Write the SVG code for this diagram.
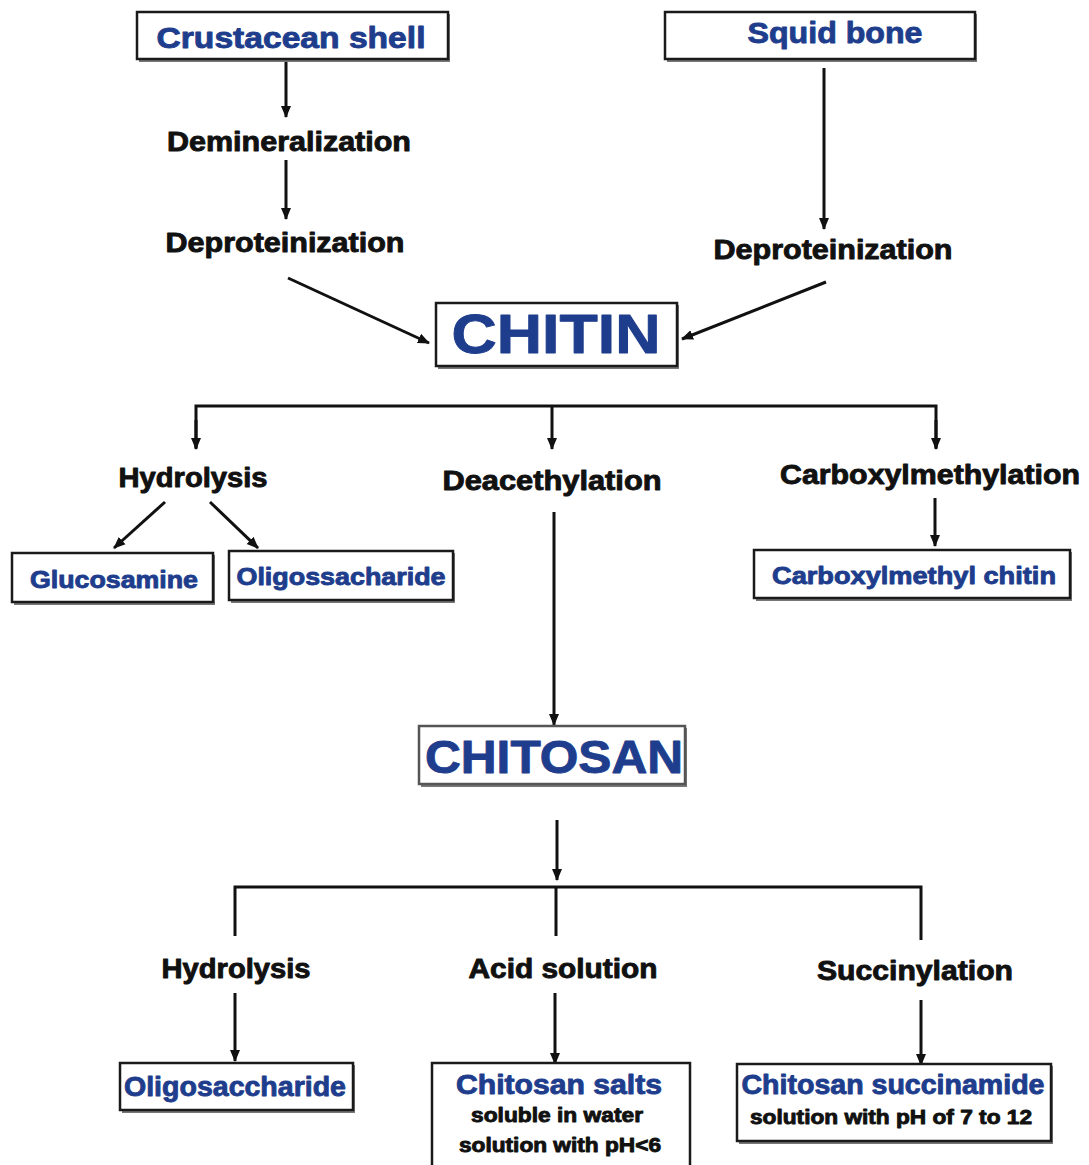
<svg xmlns="http://www.w3.org/2000/svg" width="1089" height="1165" viewBox="0 0 1089 1165">
<style>
text{font-family:"Liberation Sans",Arial,sans-serif;font-weight:bold;text-anchor:middle;stroke-width:0.9;stroke-linejoin:round}
.b{fill:#1e3d8c;stroke:#1e3d8c}
.k{fill:#111;stroke:#111}
.box{fill:#fff;stroke:#1a1a1a;stroke-width:2.5}
.sh{fill:#777}
.ln{stroke:#111;stroke-width:3;fill:none}
</style>
<defs>
<marker id="ah" markerWidth="12" markerHeight="11" refX="11" refY="5.5" orient="auto" markerUnits="userSpaceOnUse" viewBox="0 0 12 11">
<path d="M0,0.5 L12,5.5 L0,10.5 Z" fill="#111"/>
</marker>
</defs>
<rect width="1089" height="1165" fill="#fff"/>
<g id="connectors">
<line class="ln" x1="286" y1="62" x2="286" y2="117" marker-end="url(#ah)"/>
<line class="ln" x1="286" y1="160" x2="286" y2="219" marker-end="url(#ah)"/>
<line class="ln" x1="824" y1="68" x2="824" y2="229" marker-end="url(#ah)"/>
<line class="ln" x1="288" y1="278" x2="429" y2="343" marker-end="url(#ah)"/>
<line class="ln" x1="826" y1="282" x2="682" y2="339" marker-end="url(#ah)"/>
<polyline class="ln" points="196,448 196,406 936,406 936,448"/>
<line class="ln" x1="196" y1="420" x2="196" y2="449" marker-end="url(#ah)"/>
<line class="ln" x1="552" y1="406" x2="552" y2="449" marker-end="url(#ah)"/>
<line class="ln" x1="936" y1="420" x2="936" y2="449" marker-end="url(#ah)"/>
<line class="ln" x1="165" y1="502" x2="114" y2="548" marker-end="url(#ah)"/>
<line class="ln" x1="210" y1="502" x2="258" y2="548" marker-end="url(#ah)"/>
<line class="ln" x1="935" y1="498" x2="935" y2="546" marker-end="url(#ah)"/>
<line class="ln" x1="554" y1="512" x2="554" y2="725" marker-end="url(#ah)"/>
<line class="ln" x1="557" y1="820" x2="557" y2="880" marker-end="url(#ah)"/>
<polyline class="ln" points="235,936 235,887 921,887 921,940"/>
<line class="ln" x1="556" y1="887" x2="556" y2="936"/>
<line class="ln" x1="235" y1="993" x2="235" y2="1061" marker-end="url(#ah)"/>
<line class="ln" x1="555" y1="993" x2="555" y2="1064" marker-end="url(#ah)"/>
<line class="ln" x1="921" y1="1000" x2="921" y2="1065" marker-end="url(#ah)"/>
</g>
<g id="crustacean">
<rect class="sh" x="139" y="14" width="311" height="48"/>
<rect class="box" x="137" y="12" width="311" height="47"/>
<text class="b" x="291" y="48" font-size="30" textLength="269" lengthAdjust="spacingAndGlyphs">Crustacean shell</text>
</g>
<g id="squid">
<rect class="sh" x="667" y="14" width="310" height="48"/>
<rect class="box" x="665" y="12" width="310" height="47"/>
<text class="b" x="835" y="43" font-size="30" textLength="175" lengthAdjust="spacingAndGlyphs">Squid bone</text>
</g>
<g id="demineralization"><text class="k" x="289" y="151" font-size="27" textLength="244" lengthAdjust="spacingAndGlyphs">Demineralization</text></g>
<g id="deprot1"><text class="k" x="285" y="252" font-size="27" textLength="239" lengthAdjust="spacingAndGlyphs">Deproteinization</text></g>
<g id="deprot2"><text class="k" x="833" y="259" font-size="27" textLength="239" lengthAdjust="spacingAndGlyphs">Deproteinization</text></g>
<g id="chitin">
<rect class="sh" x="438" y="305" width="241" height="64"/>
<rect class="box" x="436" y="303" width="241" height="63"/>
<text class="b" x="556" y="353" font-size="55" textLength="209" lengthAdjust="spacingAndGlyphs">CHITIN</text>
</g>
<g id="hydrolysis1"><text class="k" x="193" y="487" font-size="27" textLength="149" lengthAdjust="spacingAndGlyphs">Hydrolysis</text></g>
<g id="deacethylation"><text class="k" x="552" y="490" font-size="27" textLength="219" lengthAdjust="spacingAndGlyphs">Deacethylation</text></g>
<g id="carboxylmethylation"><text class="k" x="930" y="484" font-size="27" textLength="300" lengthAdjust="spacingAndGlyphs">Carboxylmethylation</text></g>
<g id="glucosamine">
<rect class="sh" x="14" y="555" width="201" height="50"/>
<rect class="box" x="12" y="553" width="201" height="49"/>
<text class="b" x="114" y="588" font-size="24" textLength="168" lengthAdjust="spacingAndGlyphs">Glucosamine</text>
</g>
<g id="oligossacharide">
<rect class="sh" x="231" y="553" width="224" height="50"/>
<rect class="box" x="229" y="551" width="224" height="49"/>
<text class="b" x="341" y="585" font-size="24" textLength="209" lengthAdjust="spacingAndGlyphs">Oligossacharide</text>
</g>
<g id="cmchitin">
<rect class="sh" x="756" y="552" width="316" height="49"/>
<rect class="box" x="754" y="550" width="316" height="48"/>
<text class="b" x="914" y="584" font-size="24" textLength="284" lengthAdjust="spacingAndGlyphs">Carboxylmethyl chitin</text>
</g>
<g id="chitosan">
<rect class="sh" x="421" y="728" width="266" height="59"/>
<rect class="box" x="419" y="726" width="266" height="58" style="stroke:#555"/>
<text class="b" x="554" y="773" font-size="46" textLength="258" lengthAdjust="spacingAndGlyphs">CHITOSAN</text>
</g>
<g id="hydrolysis2"><text class="k" x="236" y="978" font-size="27" textLength="149" lengthAdjust="spacingAndGlyphs">Hydrolysis</text></g>
<g id="acid"><text class="k" x="563" y="978" font-size="27" textLength="189" lengthAdjust="spacingAndGlyphs">Acid solution</text></g>
<g id="succinylation"><text class="k" x="915" y="980" font-size="27" textLength="196" lengthAdjust="spacingAndGlyphs">Succinylation</text></g>
<g id="oligosaccharide">
<rect class="sh" x="122" y="1065" width="233" height="48"/>
<rect class="box" x="120" y="1063" width="233" height="47"/>
<text class="b" x="235" y="1096" font-size="28" textLength="222" lengthAdjust="spacingAndGlyphs">Oligosaccharide</text>
</g>
<g id="salts">
<path d="M432,1170 V1063 H690 V1170" class="box"/>
<text class="b" x="559" y="1094" font-size="27" textLength="206" lengthAdjust="spacingAndGlyphs">Chitosan salts</text>
<text class="k" x="557" y="1122" font-size="20" textLength="172" lengthAdjust="spacingAndGlyphs">soluble in water</text>
<text class="k" x="560" y="1152" font-size="20" textLength="202" lengthAdjust="spacingAndGlyphs">solution with pH&lt;6</text>
</g>
<g id="succinamide">
<rect class="sh" x="739" y="1066" width="314" height="78"/>
<rect class="box" x="737" y="1064" width="314" height="77"/>
<text class="b" x="893" y="1094" font-size="27" textLength="303" lengthAdjust="spacingAndGlyphs">Chitosan succinamide</text>
<text class="k" x="891" y="1124" font-size="20" textLength="282" lengthAdjust="spacingAndGlyphs">solution with pH of 7 to 12</text>
</g>
</svg>
